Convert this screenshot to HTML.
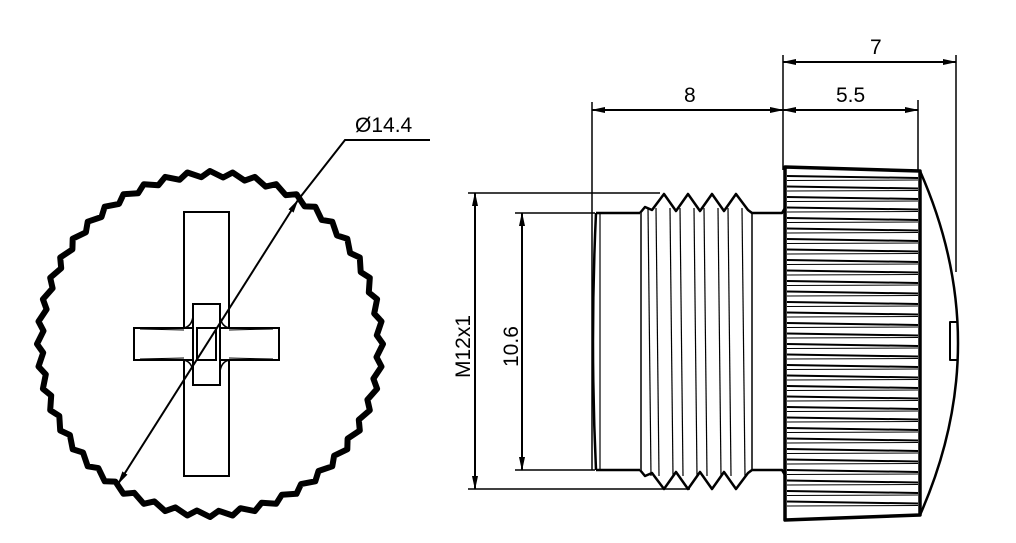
<!DOCTYPE html>
<html><head><meta charset="utf-8"><style>
html,body{margin:0;padding:0;background:#fff;width:1016px;height:543px;overflow:hidden}
svg text{font-family:"Liberation Sans",sans-serif;font-size:21px;fill:#000}
</style></head><body>
<svg id="s" width="1016" height="543" viewBox="0 0 1016 543" xmlns="http://www.w3.org/2000/svg">
<defs>
<marker id="a" markerWidth="14" markerHeight="8" refX="13" refY="4" orient="auto" markerUnits="userSpaceOnUse">
<path d="M0,1 L14,4 L0,7 Z" fill="#000"/></marker>
<marker id="b" markerWidth="14" markerHeight="8" refX="1" refY="4" orient="auto" markerUnits="userSpaceOnUse">
<path d="M14,1 L0,4 L14,7 Z" fill="#000"/></marker>
</defs>
<g fill="none" stroke="#000">
<polygon id="zig" stroke-width="6" stroke-linejoin="round"/>
<g stroke-width="2">
<rect x="184" y="212" width="45" height="264" fill="#fff"/>
<rect x="134" y="328" width="145" height="32" fill="#fff"/>
<rect x="193" y="304" width="27" height="81" fill="#fff"/>
<rect x="197" y="328" width="19" height="32" fill="#fff"/>
<path d="M184,328 Q192,326 193,316 M229,328 Q221,326 220,316 M184,360 Q192,362 193,372 M229,360 Q221,362 220,372" stroke-width="1.5"/>
<path d="M140,329 L184,330 M273,329 L229,330 M140,359 L184,358 M273,359 L229,358" stroke-width="1"/>
</g>
<line x1="118" y1="484" x2="298" y2="200" stroke-width="2" marker-start="url(#b)" marker-end="url(#a)"/>
<polyline points="298,200 345,140 430,140" stroke-width="2"/>

<g stroke-width="1.5">
<line x1="468" y1="193" x2="660" y2="193"/>
<line x1="468" y1="489" x2="690" y2="489"/>
<line x1="515" y1="213" x2="595" y2="213"/>
<line x1="515" y1="470" x2="595" y2="470"/>
<line x1="592" y1="102" x2="592" y2="470"/>
<line x1="783" y1="55" x2="783" y2="170"/>
<line x1="918" y1="100" x2="918" y2="170"/>
<line x1="956" y1="55" x2="956" y2="272"/>
</g>
<g stroke-width="2">
<line x1="475" y1="193" x2="475" y2="489" marker-start="url(#b)" marker-end="url(#a)"/>
<line x1="522" y1="213" x2="522" y2="470" marker-start="url(#b)" marker-end="url(#a)"/>
<line x1="592" y1="110" x2="783" y2="110" marker-start="url(#b)" marker-end="url(#a)"/>
<line x1="783" y1="110" x2="918" y2="110" marker-start="url(#b)" marker-end="url(#a)"/>
<line x1="783" y1="62" x2="956" y2="62" marker-start="url(#b)" marker-end="url(#a)"/>
</g>

<g stroke-width="2.5" stroke-linejoin="round">
<path d="M596,213 L640,213 M596,470 L640,470"/>
<path d="M596,213 Q590,341 596,470"/>
<path d="M600,213 L600,470" stroke-width="1.2"/>
<path d="M640,213 L645,207 L652,210 L664,194 L676,211 L688,194 L700,211 L712,194 L724,211 L736,194 L748,210 L752,213 L782,213 L785,208"/>
<path d="M640,470 L645,476 L652,473 L664,489 L676,472 L688,489 L700,472 L712,489 L724,472 L736,489 L748,473 L752,470 L782,470 L785,475"/>
<path d="M641,213 L641,470 M752,213 L752,470" stroke-width="1.5"/>
<path d="M785,167 L920,171 L920,515 L785,520 Z" stroke-width="3.5"/>
<path d="M920,171 Q996,343 920,515" stroke-width="2.5"/>
<path d="M958,322 L950,322 L950,360 L958,360" stroke-width="2"/>
</g>
<g id="thr" stroke-width="1.2"></g>
<g id="knurl"></g>
</g>
<text x="355" y="132">Ø14.4</text>
<text x="684" y="102">8</text>
<text x="836" y="102">5.5</text>
<text x="870" y="54">7</text>
<text transform="translate(470,378) rotate(-90)">M12x1</text>
<text transform="translate(518,367) rotate(-90)">10.6</text>
</svg>
<script>
(function(){
var cx=210,cy=344,r=170,n=48,pts=[];
for(var i=0;i<n;i++){
 var a0=2*Math.PI*i/n, a1=2*Math.PI*(i+0.6)/n;
 pts.push((cx+(r+3)*Math.cos(a0)).toFixed(1)+","+(cy+(r+3)*Math.sin(a0)).toFixed(1));
 pts.push((cx+(r-3)*Math.cos(a1)).toFixed(1)+","+(cy+(r-3)*Math.sin(a1)).toFixed(1));
}
document.getElementById('zig').setAttribute('points',pts.join(' '));
var ns="http://www.w3.org/2000/svg";
var t=document.getElementById('thr');
var xs=[648,656,670,680,694,704,718,728,742];
xs.forEach(function(x){var l=document.createElementNS(ns,'line');
 l.setAttribute('x1',x);l.setAttribute('y1',208);l.setAttribute('x2',x+3);l.setAttribute('y2',476);t.appendChild(l);});
var k=document.getElementById('knurl');
var j=0;
for(var y=176;y<512;y+=10.5){
 var l=document.createElementNS(ns,'line');
 l.setAttribute('x1',787);l.setAttribute('y1',y);l.setAttribute('x2',918);l.setAttribute('y2',y+2);l.setAttribute('stroke-width',2);k.appendChild(l);
 var m=document.createElementNS(ns,'line');
 m.setAttribute('x1',787);m.setAttribute('y1',y+4.5);m.setAttribute('x2',918);m.setAttribute('y2',y+4);m.setAttribute('stroke-width',1);k.appendChild(m);
}
})();
</script>
</body></html>
